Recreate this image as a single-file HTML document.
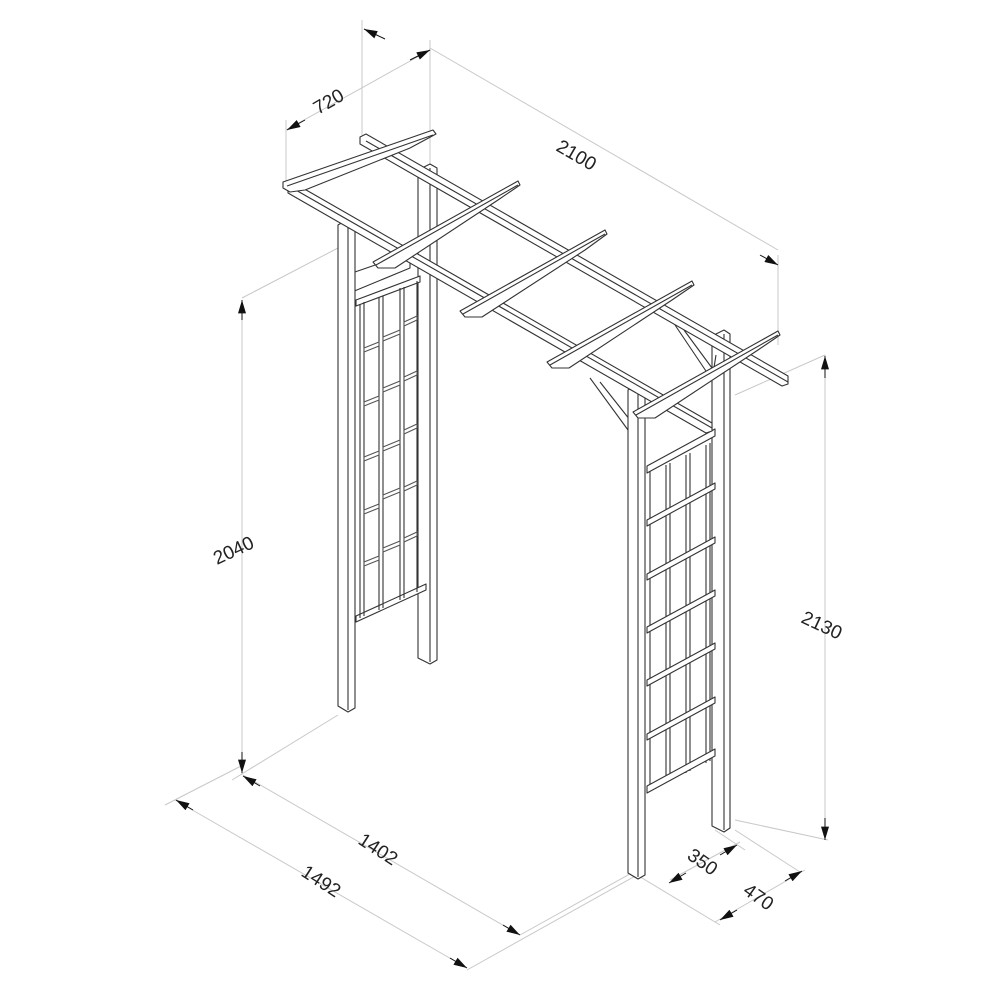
<!DOCTYPE html>
<html><head><meta charset="utf-8"><style>
html,body{margin:0;padding:0;background:#fff}
svg{display:block}
text{font-family:"Liberation Sans",sans-serif;font-size:19px;fill:#222}
</style></head><body>
<svg width="1000" height="1000" viewBox="0 0 1000 1000" xmlns="http://www.w3.org/2000/svg">
<defs>
<marker id="ar" viewBox="0 0 10 6" refX="10" refY="3" markerWidth="14" markerHeight="8" orient="auto" markerUnits="userSpaceOnUse"><path d="M0,0 L10,3 L0,6 Z" fill="#111"/></marker>
</defs>
<!-- dimension & extension lines -->
<g stroke="#c8c8c8" stroke-width="1" fill="none">
<line x1="362" y1="20" x2="362" y2="135"/>
<line x1="430" y1="40" x2="430" y2="165"/>
<line x1="286" y1="120" x2="286" y2="185"/>
<line x1="778" y1="255" x2="778" y2="345"/>
<line x1="430" y1="48" x2="778" y2="250"/>
<line x1="286" y1="130" x2="430" y2="50"/>
<line x1="242" y1="298" x2="338" y2="248"/>
<line x1="242" y1="300" x2="242" y2="775"/>
<line x1="232" y1="780" x2="338" y2="715"/>
<line x1="825" y1="355" x2="825" y2="840"/>
<line x1="825" y1="355" x2="735" y2="395"/>
<line x1="828" y1="840" x2="735" y2="820"/>
<line x1="165" y1="805" x2="243" y2="765"/>
<line x1="243" y1="775" x2="520" y2="935"/>
<line x1="175" y1="800" x2="467" y2="968"/>
<line x1="467" y1="970" x2="637" y2="875"/>
<line x1="520" y1="935" x2="637" y2="870"/>
<line x1="637" y1="875" x2="720" y2="925"/>
<line x1="735" y1="830" x2="800" y2="872"/>
<line x1="715" y1="830" x2="745" y2="850"/>
<line x1="670" y1="880" x2="740" y2="842"/>
<line x1="715" y1="922" x2="805" y2="870"/>
</g>
<g stroke="#111" stroke-width="1">
<line x1="385" y1="39" x2="364" y2="29" marker-end="url(#ar)"/>
<line x1="410" y1="60" x2="430" y2="50" marker-end="url(#ar)"/>
<line x1="305" y1="120" x2="287" y2="130" marker-end="url(#ar)"/>
<line x1="760" y1="255" x2="778" y2="265" marker-end="url(#ar)"/>
<line x1="242" y1="320" x2="242" y2="300" marker-end="url(#ar)"/>
<line x1="242" y1="752" x2="242" y2="773" marker-end="url(#ar)"/>
<line x1="825" y1="378" x2="825" y2="356" marker-end="url(#ar)"/>
<line x1="825" y1="818" x2="825" y2="840" marker-end="url(#ar)"/>
<line x1="260" y1="786" x2="243" y2="776" marker-end="url(#ar)"/>
<line x1="503" y1="925" x2="520" y2="935" marker-end="url(#ar)"/>
<line x1="193" y1="810" x2="176" y2="800" marker-end="url(#ar)"/>
<line x1="450" y1="958" x2="467" y2="968" marker-end="url(#ar)"/>
<line x1="720" y1="855" x2="737" y2="845" marker-end="url(#ar)"/>
<line x1="686" y1="873" x2="669" y2="883" marker-end="url(#ar)"/>
<line x1="785" y1="881" x2="802" y2="871" marker-end="url(#ar)"/>
<line x1="737" y1="910" x2="720" y2="920" marker-end="url(#ar)"/>
</g>
<text transform="translate(318,115) rotate(-30)">720</text>
<text transform="translate(555,150) rotate(30)">2100</text>
<text transform="translate(217,565) rotate(-25)">2040</text>
<text transform="translate(800,622) rotate(25)">2130</text>
<text transform="translate(357,843) rotate(33)">1402</text>
<text transform="translate(300,875) rotate(33)">1492</text>
<text transform="translate(686,858) rotate(35)">350</text>
<text transform="translate(742,893) rotate(35)">470</text>

<g stroke="#333" stroke-width="1.1" fill="#fff" stroke-linejoin="round">
<!-- back posts -->
<polygon points="418,170 430,164 437,168 437,660 430,664 418,658"/>
<line x1="430" y1="168" x2="430" y2="662"/>
<polygon points="712,336 724,330 730,334 730,828 724,832 712,826"/>
<line x1="724" y1="334" x2="724" y2="830"/>
<!-- back beam -->
<polygon points="360,137 366,134 788,376 788,384 782,386 360,144"/>
<line x1="366" y1="141" x2="788" y2="382"/>
<!-- braces right -->
<polyline fill="none" points="590,378 628,430 632,400"/>
<line x1="600" y1="382" x2="630" y2="420"/>
<polyline fill="none" points="675,325 712,380 716,355"/>
<line x1="684" y1="330" x2="712" y2="368"/>
<!-- left trellis -->
<polygon points="352,273 410,253 410,268 352,292"/>
<polygon points="356,300 420,276 420,282 356,306"/>
<polygon points="356,616 426,584 426,590 356,622"/>
<g fill="none">
<line x1="360" y1="304" x2="360" y2="618"/><line x1="364" y1="302" x2="364" y2="616"/>
<line x1="379" y1="297" x2="379" y2="610"/><line x1="383" y1="296" x2="383" y2="608"/>
<line x1="400" y1="288" x2="400" y2="600"/><line x1="404" y1="287" x2="404" y2="598"/>
<line x1="417" y1="281" x2="417" y2="592"/>
</g>
<g stroke="#555">
<polygon points="364,348 379,342 379,346 364,352"/><polygon points="364,402 379,396 379,400 364,406"/>
<polygon points="364,457 379,451 379,455 364,461"/><polygon points="364,510 379,504 379,508 364,514"/>
<polygon points="364,562 379,556 379,560 364,566"/>
<polygon points="383,337 400,330 400,334 383,341"/><polygon points="383,388 400,381 400,385 383,392"/>
<polygon points="383,447 400,440 400,444 383,451"/><polygon points="383,495 400,488 400,492 383,499"/>
<polygon points="383,548 400,541 400,545 383,552"/>
<polygon points="404,322 417,316 417,320 404,326"/><polygon points="404,377 417,371 417,375 404,381"/>
<polygon points="404,430 417,424 417,428 404,434"/><polygon points="404,487 417,481 417,485 404,491"/>
<polygon points="404,538 417,532 417,536 404,542"/>
</g>
<!-- right trellis -->
<g fill="none">
<line x1="650" y1="470" x2="650" y2="790"/>
<line x1="666" y1="465" x2="666" y2="783"/><line x1="670" y1="463" x2="670" y2="781"/>
<line x1="686" y1="455" x2="686" y2="773"/><line x1="690" y1="453" x2="690" y2="771"/>
<line x1="706" y1="445" x2="706" y2="763"/><line x1="710" y1="443" x2="710" y2="761"/>
</g>
<polygon points="647,466 715,429 715,436 647,473"/>
<polygon points="647,520 715,483 715,489 647,526"/>
<polygon points="647,574 715,537 715,543 647,580"/>
<polygon points="647,627 715,590 715,596 647,633"/>
<polygon points="647,680 715,643 715,649 647,686"/>
<polygon points="647,734 715,697 715,703 647,740"/>
<polygon points="647,786 715,749 715,756 647,793"/>
<!-- front posts -->
<polygon points="338,225 348,219 355,223 355,708 348,712 338,706"/>
<line x1="348" y1="223" x2="348" y2="710"/>
<polygon points="628,390 638,384 645,388 645,875 638,879 628,873"/>
<line x1="638" y1="388" x2="638" y2="877"/>
<!-- front beam -->
<polygon points="288,186 294,183 712,423 712,431 706,433 288,193"/>
<line x1="294" y1="189" x2="712" y2="428"/>
<!-- rafters -->
<g>
<polygon points="283,182 433,130 436,134 410,148 305,190 290,192 283,188"/>
<line x1="287" y1="186" x2="433" y2="135"/>
<polygon points="373,262 518,181 520,185 498,200 395,268 378,268"/>
<line x1="376" y1="265" x2="518" y2="185"/>
<polygon points="460,311 605,230 607,234 585,250 482,317 465,317"/>
<line x1="463" y1="314" x2="605" y2="234"/>
<polygon points="547,362 692,281 694,285 672,300 569,368 552,368"/>
<line x1="550" y1="365" x2="692" y2="285"/>
<polygon points="633,412 778,331 780,335 758,350 655,418 638,418"/>
<line x1="636" y1="415" x2="778" y2="335"/>
</g>
</g>
</svg>
</body></html>
